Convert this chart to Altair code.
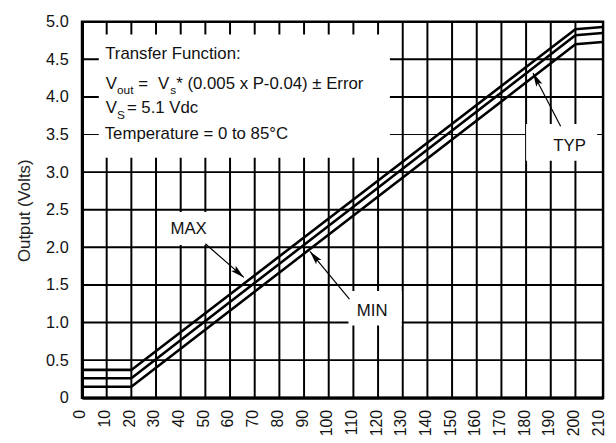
import math
import altair as alt
import pandas as pd

# ---- data ----
x_pts = [0, 20, 200, 211]
max_v = [0.37, 0.37, 4.90, 4.93]
typ_v = [0.26, 0.26, 4.82, 4.85]
min_v = [0.145, 0.145, 4.70, 4.73]

x_ticks = list(range(0, 211, 10))
y_ticks = [0, 0.5, 1.0, 1.5, 2.0, 2.5, 3.0, 3.5, 4.0, 4.5, 5.0]
x_grid = list(range(10, 201, 10))
y_grid = [0.5, 1.0, 1.5, 2.0, 2.5, 3.0, 3.5, 4.0, 4.5]

X_MAX = 211.2
Y_MAX = 5.0
W, H = 528, 381
FONT = "Liberation Sans, Arial"

# annotation layout (data units)
boxes = pd.DataFrame({
    "x": [6.8, 33, 108, 180], "x2": [124.8, 57, 129.6, 208.8],
    "y": [3.19, 2.03, 0.96, 3.15], "y2": [4.83, 2.47, 1.42, 3.64],
})
main_txt = pd.DataFrame({
    "t": ["Transfer Function:", "V", "=", "V", "* (0.005 x P-0.04) \u00b1 Error",
          "V", "= 5.1 Vdc", "Temperature = 0 to 85\u00b0C"],
    "x": [9.4, 9.6, 22.8, 30.8, 38.2, 9.6, 18.2, 9.2],
    "y": [4.50, 4.108, 4.108, 4.108, 4.108, 3.78, 3.78, 3.44],
})
sub_txt = pd.DataFrame({
    "t": ["out", "s", "S"],
    "x": [14.2, 35.8, 14.2],
    "y": [4.04, 4.04, 3.71],
})
labels = pd.DataFrame({
    "t": ["MAX", "MIN", "TYP"],
    "x": [43.2, 117.6, 197.6],
    "y": [2.18, 1.09, 3.28],
})
arrows = pd.DataFrame({
    "x": [50.0, 108.4, 194.0], "y": [2.047, 1.312, 3.609],
    "x2": [65.6, 92.4, 182.8], "y2": [1.60, 1.945, 4.318],
})
px_x = W / X_MAX
px_y = H / Y_MAX
arrows["ang"] = [
    (math.degrees(math.atan2((r.x2 - r.x) * px_x, (r.y2 - r.y) * px_y)) + 360) % 360
    for r in arrows.itertuples()
]

lines = pd.DataFrame({
    "x": x_pts * 3,
    "v": max_v + typ_v + min_v,
    "s": ["MAX"] * 4 + ["TYP"] * 4 + ["MIN"] * 4,
})

xs = alt.Scale(domain=[0, X_MAX], nice=False, zero=False)
ys = alt.Scale(domain=[0, Y_MAX], nice=False, zero=False)

x_axis = alt.Axis(values=x_ticks, labelAngle=270, grid=False, ticks=False,
                  domainColor="black", domainWidth=3, labelFontSize=16,
                  labelPadding=12, labelColor="#111", title=None,
                  labelFont=FONT, labelOverlap=False, labelOffset=-2)
y_axis = alt.Axis(values=y_ticks, grid=False, ticks=False, domainColor="black",
                  domainWidth=3, labelFontSize=16.5, labelPadding=14,
                  labelColor="#111",
                  labelExpr="datum.value == 0 ? '0' : format(datum.value, '.1f')",
                  title="Output (Volts)", titleFontSize=17, titleFontWeight="normal",
                  titleColor="#222", titleX=-58, titleY=191, titleBaseline="middle",
                  labelFont=FONT, titleFont=FONT, labelOverlap=False)


def X(f):
    return alt.X(f, type="quantitative", scale=xs, axis=x_axis)


def Y(f):
    return alt.Y(f, type="quantitative", scale=ys, axis=y_axis)


vgrid = alt.Chart(pd.DataFrame({"x": x_grid})).mark_rule(
    color="black", strokeWidth=2).encode(x=X("x"))
hgrid = alt.Chart(pd.DataFrame({"y": y_grid})).mark_rule(color="black").encode(
    y=Y("y"),
    strokeWidth=alt.condition("datum.y == 3.5", alt.value(1), alt.value(2)),
)
rects = alt.Chart(boxes).mark_rect(fill="white", strokeWidth=0).encode(
    x=X("x"), x2="x2", y=Y("y"), y2="y2")
data_lines = alt.Chart(lines).mark_line(color="black", strokeWidth=2.6).encode(
    x=X("x"), y=Y("v"), detail="s:N")
shafts = alt.Chart(arrows).mark_rule(color="black", strokeWidth=1.2).encode(
    x=X("x"), y=Y("y"), x2="x2", y2="y2")
heads = alt.Chart(arrows).mark_point(
    shape="M0,0L-0.25,1L0,0.8L0.25,1Z", filled=True, color="black",
    opacity=1, size=784, strokeWidth=0).encode(
    x=X("x2"), y=Y("y2"), angle=alt.Angle("ang:Q", scale=None))
t_main = alt.Chart(main_txt).mark_text(
    align="left", baseline="alphabetic", fontSize=17, font=FONT, color="#111").encode(
    x=X("x"), y=Y("y"), text="t:N")
t_sub = alt.Chart(sub_txt).mark_text(
    align="left", baseline="alphabetic", fontSize=12, font=FONT, color="#111").encode(
    x=X("x"), y=Y("y"), text="t:N")
t_lab = alt.Chart(labels).mark_text(
    align="center", baseline="alphabetic", fontSize=17, font=FONT, color="#111").encode(
    x=X("x"), y=Y("y"), text="t:N")

chart = alt.layer(vgrid, hgrid, rects, data_lines, shafts, heads, t_main, t_sub, t_lab).properties(
    width=W, height=H,
    padding={"left": 75, "top": 11, "right": 5, "bottom": 45},
    autosize=alt.AutoSizeParams(type="none"),
    background="white",
).configure(font=FONT).configure_view(stroke="black", strokeWidth=2.5)

chart.save("out.html", embed_options={"renderer": "svg", "actions": False})
